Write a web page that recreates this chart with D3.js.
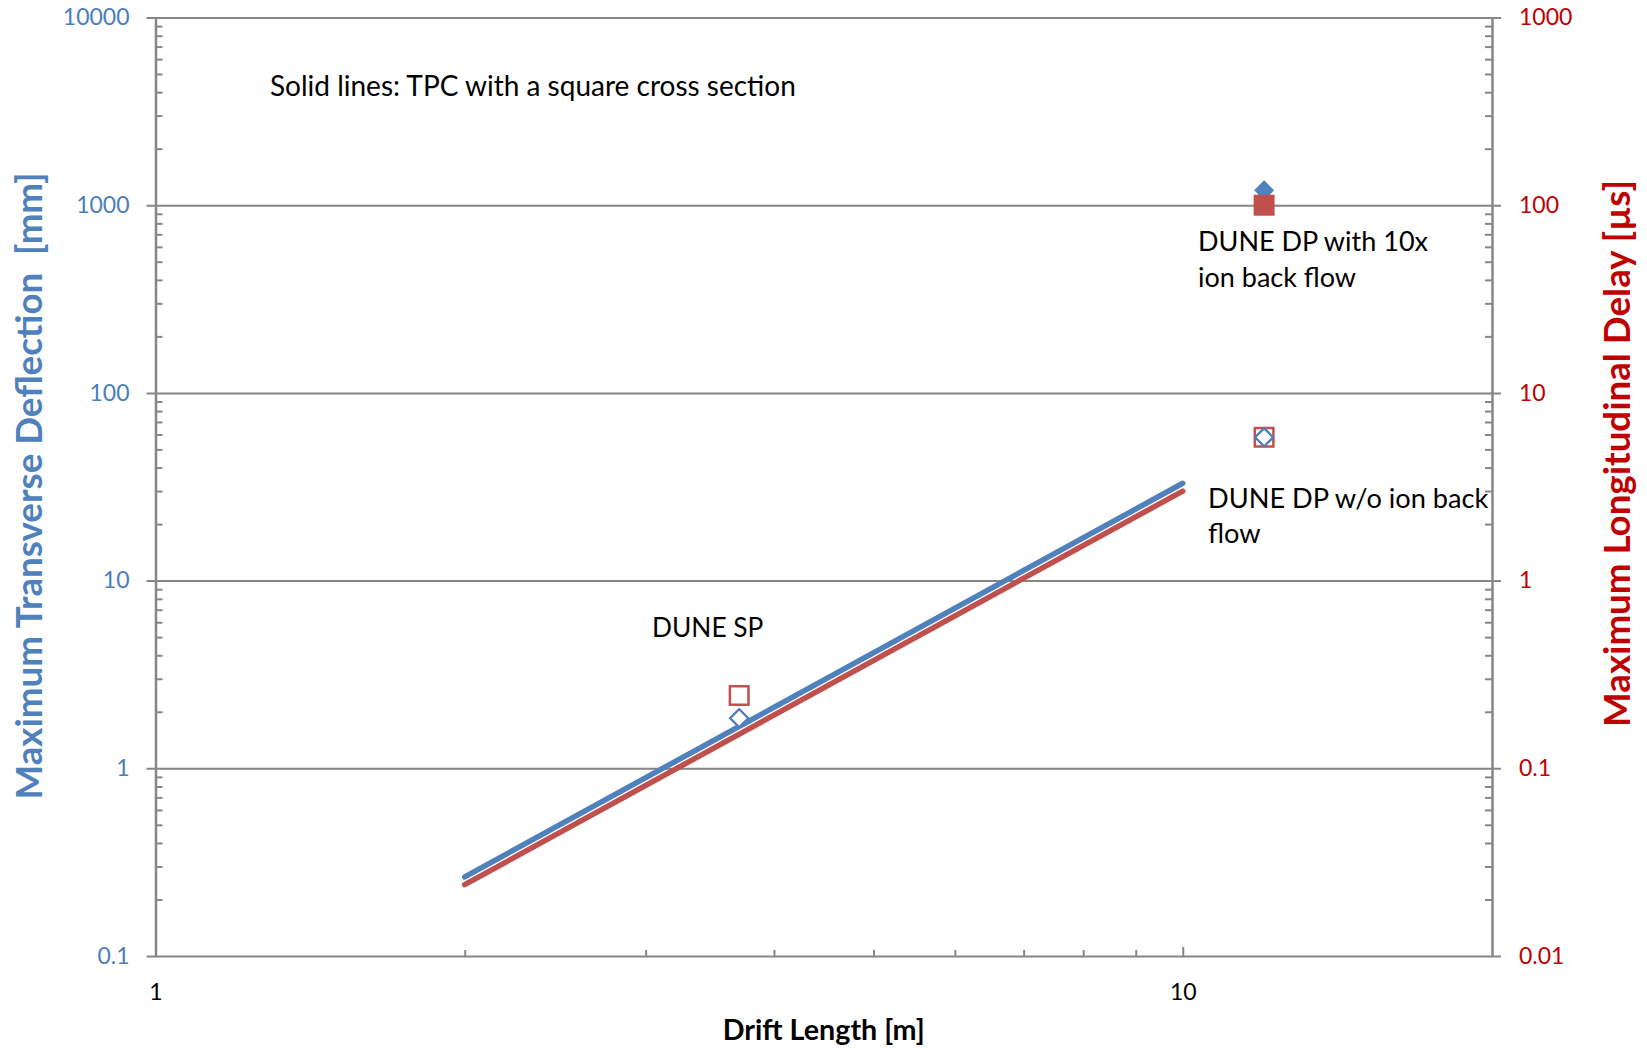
<!DOCTYPE html>
<html>
<head>
<meta charset="utf-8">
<script src="https://cdn.jsdelivr.net/npm/d3@7/dist/d3.min.js"></script>
<style>
  body { margin: 0; background: #fff; }
  text { font-family: Lato, "Open Sans", sans-serif; }
</style>
</head>
<body>
<svg id="chart" width="1647" height="1048"></svg>
<script>
// ---- data ----
var lineX = [2, 10];                       // drift length [m] of the solid lines
var deflectionLine = [0.264, 33];          // mm, left axis
var delayLine = [0.024, 3.0];              // µs, right axis

var pointX = [3.7, 12, 12];
var pointDeflection = [1.85, 58, 1200];    // mm
var pointDelay = [0.244, 5.8, 100];        // µs
var pointFilled = [false, false, true];

var xTickValues = [1, 10];
var leftTickValues = [0.1, 1, 10, 100, 1000, 10000];
var rightTickValues = [0.01, 0.1, 1, 10, 100, 1000];

var annoText = ["Solid lines: TPC with a square cross section", "DUNE SP",
    "DUNE DP with 10x", "ion back flow", "DUNE DP w/o ion back", "flow"];

// ---- layout ----
var svg = d3.select("#chart");
var mLeft = 155.5, mRight = 1492, mTop = 17.5, mBottom = 956;
var W = mRight - mLeft, H = mBottom - mTop;
var gridColor = "#868686";
var blue = "#4F81BD", red = "#C0504D", darkRed = "#C00000", labelBlue = "#4A7EBB";

var x = d3.scaleLog().domain([1, 20]).range([0, W]);
var yL = d3.scaleLog().domain([0.1, 10000]).range([H, 0]);
var yR = d3.scaleLog().domain([0.01, 1000]).range([H, 0]);

var g = svg.append("g").attr("transform", "translate(" + mLeft + "," + mTop + ")");

// minor tick values (2..9 in each decade)
function minors(lo, hi) {
    var out = [];
    for (var d = lo; d < hi * 0.99; d *= 10) {
        for (var k = 2; k < 10; k++) out.push(d * k);
    }
    return out;
}

// left axis + gridlines
var leftAxis = g.append("g")
    .call(d3.axisLeft(yL).tickValues(leftTickValues).tickSize(-W).tickPadding(26)
        .tickFormat(function (d) { return String(d); }).tickSizeOuter(0));
leftAxis.selectAll(".tick line").attr("x1", -9).attr("x2", W + 9)
    .attr("stroke", gridColor).attr("stroke-width", 2);
leftAxis.select(".domain").attr("stroke", gridColor).attr("stroke-width", 2.5);
leftAxis.selectAll("text").attr("fill", labelBlue).attr("font-size", 23);

g.append("g")
    .call(d3.axisLeft(yL).tickValues(minors(0.1, 10000)).tickSize(-7).tickFormat(""))
    .call(function (s) { s.select(".domain").remove(); })
    .selectAll("line").attr("stroke", gridColor).attr("stroke-width", 2);

// right axis
var rightAxis = g.append("g").attr("transform", "translate(" + W + ",0)")
    .call(d3.axisRight(yR).tickValues(rightTickValues).tickSize(0).tickPadding(27)
        .tickFormat(function (d) { return String(d); }).tickSizeOuter(0));
rightAxis.select(".domain").attr("stroke", gridColor).attr("stroke-width", 2.5);
rightAxis.selectAll("text").attr("fill", darkRed).attr("font-size", 23);

g.append("g").attr("transform", "translate(" + W + ",0)")
    .call(d3.axisRight(yR).tickValues(minors(0.01, 1000)).tickSize(-7).tickFormat(""))
    .call(function (s) { s.select(".domain").remove(); })
    .selectAll("line").attr("stroke", gridColor).attr("stroke-width", 2);

// bottom axis
var xAxis = g.append("g").attr("transform", "translate(0," + H + ")")
    .call(d3.axisBottom(x).tickValues(xTickValues).tickSize(-9).tickPadding(28)
        .tickFormat(function (d) { return String(d); }).tickSizeOuter(0));
xAxis.select(".domain").remove();
xAxis.selectAll("line").attr("stroke", gridColor).attr("stroke-width", 2);
xAxis.selectAll("text").attr("fill", "#000").attr("font-size", 23);

g.append("g").attr("transform", "translate(0," + H + ")")
    .call(d3.axisBottom(x).tickValues(minors(1, 10)).tickSize(-6).tickFormat(""))
    .call(function (s) { s.select(".domain").remove(); })
    .selectAll("line").attr("stroke", gridColor).attr("stroke-width", 2);

// solid lines
var lineL = d3.line().x(function (d, i) { return x(lineX[i]); }).y(function (d) { return yL(d); });
var lineR = d3.line().x(function (d, i) { return x(lineX[i]); }).y(function (d) { return yR(d); });

g.append("path").attr("d", lineR(delayLine))
    .attr("fill", "none").attr("stroke", red).attr("stroke-width", 5.5).attr("stroke-linecap", "round");
g.append("path").attr("d", lineL(deflectionLine))
    .attr("fill", "none").attr("stroke", blue).attr("stroke-width", 5.5).attr("stroke-linecap", "round");

// markers: blue diamonds (left axis), red squares (right axis)
g.selectAll(".dia").data(pointDeflection).enter().append("path")
    .attr("class", "dia")
    .attr("d", function (d, i) { return d3.symbol().type(d3.symbolSquare).size(pointFilled[i] ? 200 : 165)(); })
    .attr("transform", function (d, i) { return "translate(" + x(pointX[i]) + "," + yL(d) + ") rotate(45)"; })
    .attr("fill", function (d, i) { return pointFilled[i] ? blue : "#fff"; })
    .attr("stroke", blue)
    .attr("stroke-width", function (d, i) { return pointFilled[i] ? 0 : 2; });

g.selectAll(".sq").data(pointDelay).enter().append("path")
    .attr("class", "sq")
    .attr("d", function (d, i) { return d3.symbol().type(d3.symbolSquare).size(pointFilled[i] ? 441 : 345)(); })
    .attr("transform", function (d, i) { return "translate(" + x(pointX[i]) + "," + yR(d) + ")"; })
    .attr("fill", function (d, i) { return pointFilled[i] ? red : "none"; })
    .attr("stroke", red)
    .attr("stroke-width", function (d, i) { return pointFilled[i] ? 0 : 2.5; });

// hollow diamonds again on top of the hollow squares
pointDeflection.forEach(function (d, i) {
    if (pointFilled[i]) return;
    g.append("path")
        .attr("d", d3.symbol().type(d3.symbolSquare).size(165)())
        .attr("transform", "translate(" + x(pointX[i]) + "," + yL(d) + ") rotate(45)")
        .attr("fill", "none").attr("stroke", blue).attr("stroke-width", 2);
});

// annotations
var annoPos = [[270, 96], [652, 637], [1198, 251], [1198, 287], [1208, 508], [1208, 543]];
var annoSize = [28, 26.3, 27, 27, 27.2, 27.2];
svg.selectAll(".anno").data(annoText).enter().append("text")
    .attr("class", "anno")
    .attr("x", function (d, i) { return annoPos[i][0]; })
    .attr("y", function (d, i) { return annoPos[i][1]; })
    .attr("font-size", function (d, i) { return annoSize[i]; }).attr("fill", "#000")
    .text(function (d) { return d; });

// axis titles
svg.append("text")
    .attr("transform", "translate(42,486) rotate(-90)")
    .attr("text-anchor", "middle").attr("font-size", 36.7).attr("font-weight", "bold")
    .attr("fill", blue).attr("xml:space", "preserve")
    .text("Maximum Transverse Deflection  [mm]");

svg.append("text")
    .attr("transform", "translate(1630,453.5) rotate(-90)")
    .attr("text-anchor", "middle").attr("font-size", 36.7).attr("font-weight", "bold")
    .attr("fill", darkRed)
    .text("Maximum Longitudinal Delay [µs]");

svg.append("text")
    .attr("x", (mLeft + mRight) / 2).attr("y", 1040)
    .attr("text-anchor", "middle").attr("font-size", 28.7).attr("font-weight", "bold")
    .attr("fill", "#000")
    .text("Drift Length [m]");
</script>
</body>
</html>
